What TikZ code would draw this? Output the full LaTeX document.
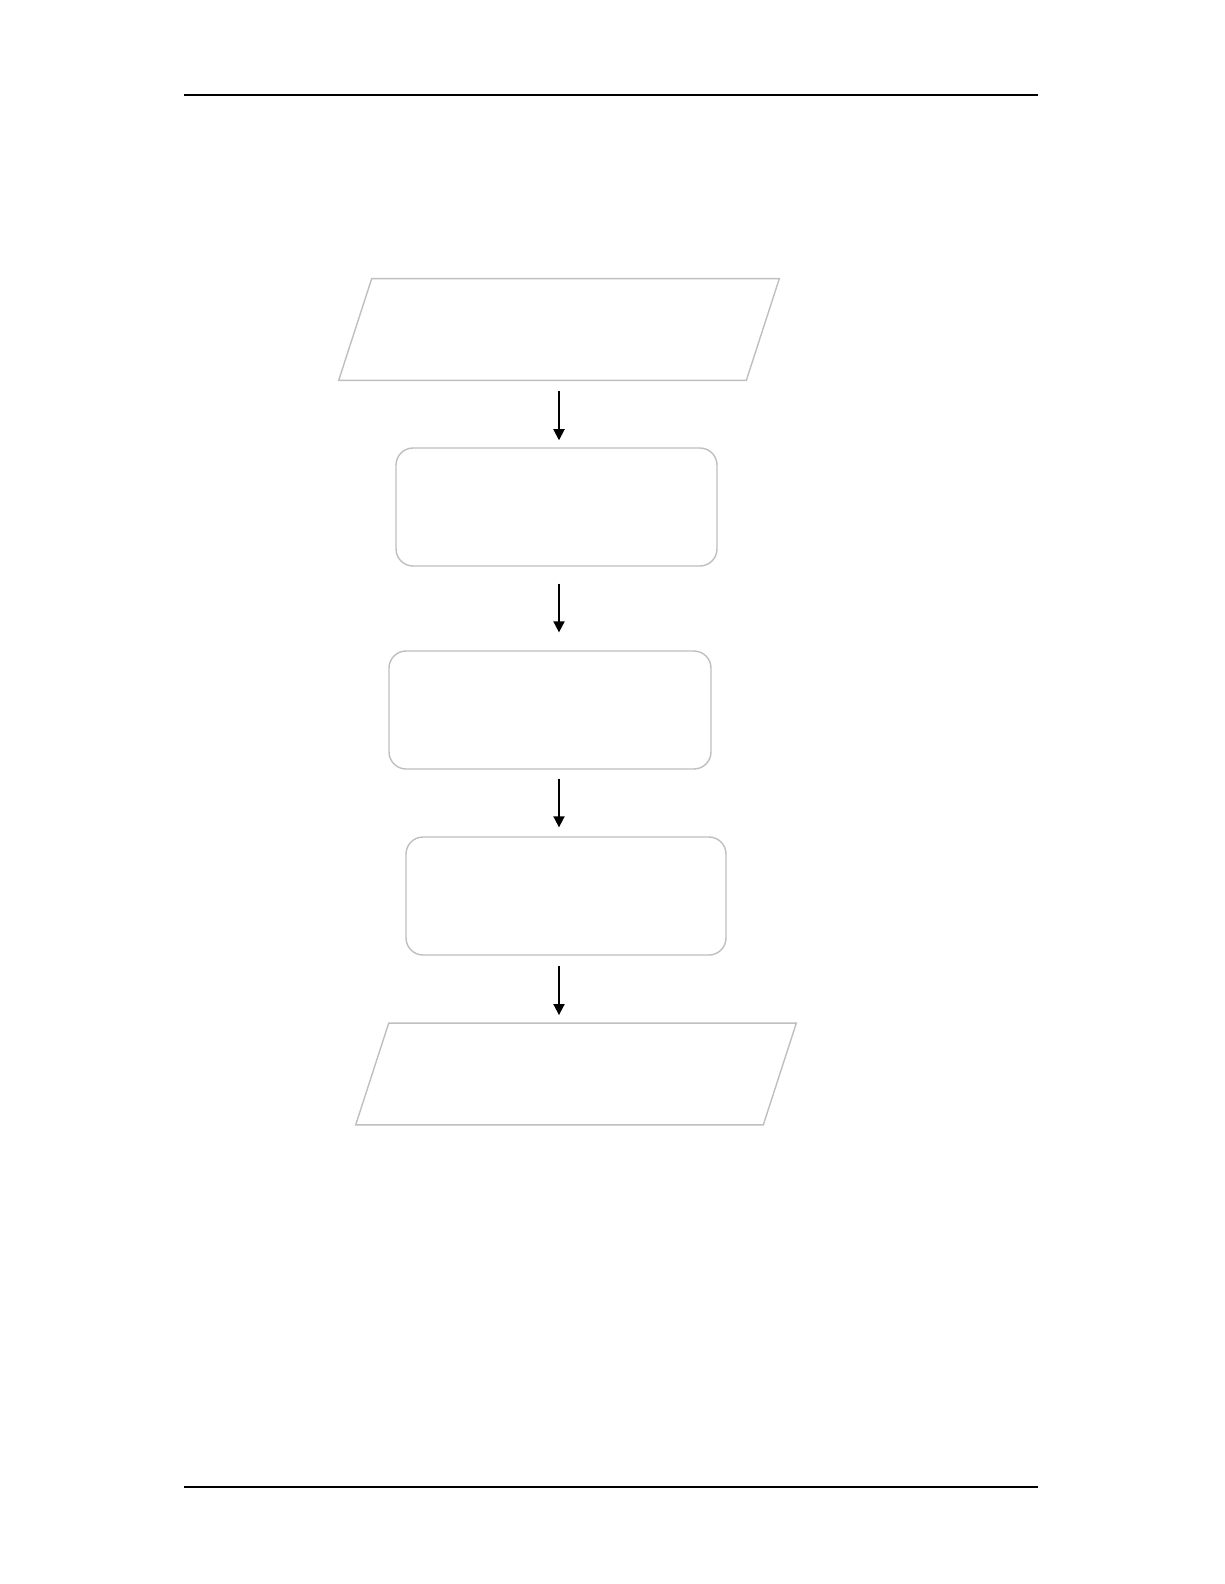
\documentclass[tikz,border=0pt]{standalone}
\usepackage{tikz}
\usetikzlibrary{arrows.meta}

\tikzset{
  iobox/.style={rectangle, inner sep=0pt,
    minimum width=8.14cm, minimum height=2.02cm},
  ioline/.style={draw=black!25, line width=0.8pt, line join=miter},
  procbox/.style={draw=black!25, line width=0.8pt, rectangle,
    rounded corners=0.34cm, inner sep=0pt,
    minimum width=6.42cm, minimum height=2.36cm},
  flow/.style={black, line width=1pt,
    -{Triangle[length=6.3pt,width=6.3pt]}},
  pagerule/.style={black, line cap=butt}
}

\begin{document}
\begin{tikzpicture}[x=0.02cm, y=-0.02cm]
        \useasboundingbox (0,0) rectangle (1224,1584);

        % page rules
        \coordinate (rtl) at (184,95);
        \coordinate (rtr) at (1038,95);
        \coordinate (rbl) at (184,1487);
        \coordinate (rbr) at (1038,1487);
        \draw[pagerule, line width=1.7pt] (rtl) -- (rtr);
        \draw[pagerule, line width=1.3pt] (rbl) -- (rbr);

        % flow chart
        \node[iobox] (input) at (559,329.5) {};
        \node[procbox] (stepa) at (556.5,507) {};
        \node[procbox, minimum width=6.44cm] (stepb) at (550,710) {};
        \node[procbox, minimum width=6.40cm] (stepc) at (566,896) {};
        \node[iobox] (output) at (576,1074) {};

        % slanted input/output boxes
        \foreach \n in {input,output}
          \draw[ioline] ([xshift=-0.33cm]\n.south west) -- ([xshift=0.33cm]\n.north west)
            -- ([xshift=0.33cm]\n.north east) -- ([xshift=-0.33cm]\n.south east) -- cycle;

        \coordinate (ax) at (559,0);

        \draw[flow, shorten <=6.3pt, shorten >=4pt] (input.south -| ax) -- (stepa.north -| ax);
        \draw[flow, shorten <=9.7pt, shorten >=10.2pt] (stepa.south -| ax) -- (stepb.north -| ax);
        \draw[flow, shorten <=5.1pt, shorten >=5.1pt] (stepb.south -| ax) -- (stepc.north -| ax);
        \draw[flow, shorten <=5.7pt, shorten >=4.6pt] (stepc.south -| ax) -- (output.north -| ax);
\end{tikzpicture}
\end{document}
